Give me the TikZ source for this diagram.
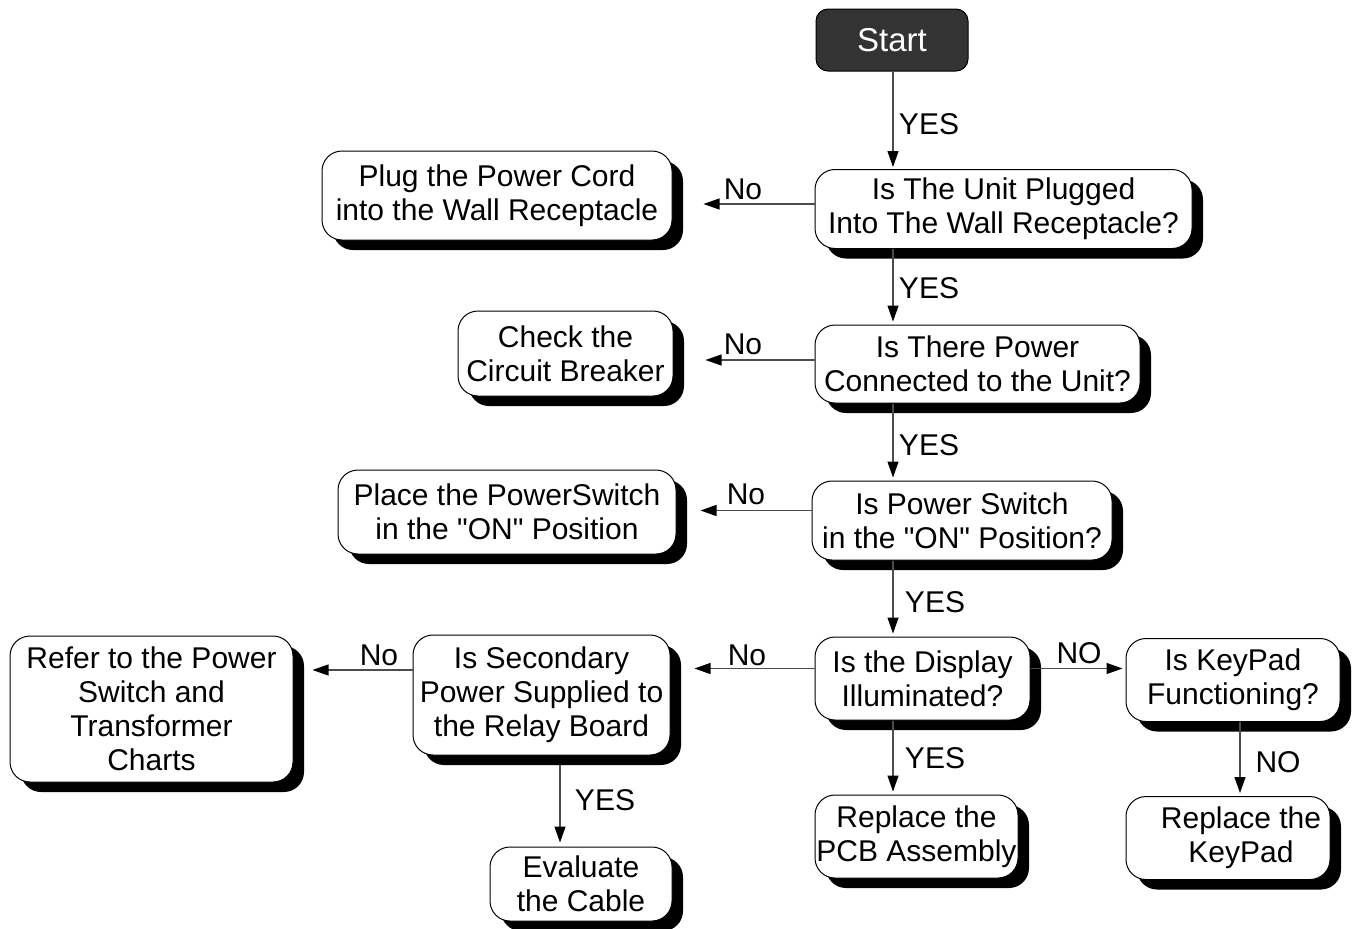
\documentclass[tikz,border=0pt]{standalone}
\usepackage{fontspec}
\setmainfont{Liberation Sans}[Ligatures=TeXOff]
\usetikzlibrary{shadows,arrows.meta}
\begin{document}
\begin{tikzpicture}[x=1pt,y=-1pt,
  every node/.style={font=\fontsize{30}{34}\selectfont},
  box/.style={draw=black, line width=1pt, fill=white, rounded corners=20pt,
    align=center, inner sep=0pt,
    drop shadow={shadow xshift=11pt, shadow yshift=-10pt, fill=black, opacity=1}},
  startbox/.style={draw=black, line width=1pt, fill=black!80, text=white,
    rounded corners=12pt, inner sep=0pt, font=\fontsize{33}{38}\selectfont},
  arr/.style={draw=black!70, line width=1.2pt, -{Triangle[length=16pt,width=11pt,color=black]}},
  lbl/.style={inner sep=0pt}
]
\useasboundingbox (0,0) rectangle (1355,929);

% --- main column ---
\node[startbox, minimum width=152pt, minimum height=62pt] (start) at (892,40) {Start};
\node[box, minimum width=377pt, minimum height=79pt] (q1) at (1003.5,209) {Is The Unit Plugged\\Into The Wall Receptacle?};
\node[box, minimum width=325pt, minimum height=78pt] (q2) at (977.5,364) {Is There Power\\Connected to the Unit?};
\node[box, minimum width=300pt, minimum height=79pt] (q3) at (962,520.5) {Is Power Switch\\in the "ON" Position?};
\node[box, minimum width=215pt, minimum height=83pt] (q4) at (922.5,678.5) {Is the Display\\Illuminated?};
\node[box, minimum width=203pt, minimum height=83pt] (pcb) at (916.5,836.5) {Replace the\\PCB Assembly};

% --- keypad branch ---
\node[box, minimum width=214pt, minimum height=83pt] (kp) at (1233,680) {Is KeyPad\\Functioning?};
\node[box, minimum width=204pt, minimum height=83pt] (rkp) at (1228,838) {\hspace*{26pt}Replace the\\\hspace*{26pt}KeyPad};

% --- remedies on the left ---
\node[box, minimum width=350pt, minimum height=89pt] (a1) at (497,195.5) {Plug the Power Cord\\into the Wall Receptacle};
\node[box, minimum width=215pt, minimum height=85pt] (a2) at (565.5,353.5) {Check the\\Circuit Breaker};
\node[box, minimum width=338pt, minimum height=84pt] (a3) at (507,512) {Place the PowerSwitch\\in the "ON" Position};
\node[box, minimum width=257pt, minimum height=120pt] (q5) at (541.5,695) {Is Secondary\\Power Supplied to\\the Relay Board};
\node[box, minimum width=283pt, minimum height=146pt] (r1) at (151.5,709) {Refer to the Power\\Switch and\\Transformer\\Charts};
\node[box, minimum width=182pt, minimum height=74pt] (ev) at (581,884) {Evaluate\\the Cable};

% --- helper coordinates for off-centre connectors ---
\coordinate (spine) at (893,0);
\coordinate (kpx) at (1240,0);
\coordinate (q5b) at (560,765);

% --- YES chain down the spine ---
\draw[arr, shorten >=2pt] (spine |- start.south) -- (spine |- q1.north);
\draw[arr, shorten >=3pt] (spine |- q1.south) -- (spine |- q2.north);
\draw[arr, shorten >=3pt] (spine |- q2.south) -- (spine |- q3.north);
\draw[arr, shorten >=3pt] (spine |- q3.south) -- (spine |- q4.north);
\draw[arr, shorten >=3pt] (spine |- q4.south) -- (spine |- pcb.north);

% --- No branches ---
\draw[arr, shorten >=31pt] ([yshift=5pt]q1.west) -- ([yshift=5pt]q1.west -| a1.east);
\draw[arr, shorten >=32pt] ([yshift=4pt]q2.west) -- ([yshift=4pt]q2.west -| a2.east);
\draw[arr, shorten >=24pt] ([yshift=10pt]q3.west) -- ([yshift=10pt]q3.west -| a3.east);
\draw[arr, shorten >=24pt] ([yshift=10pt]q4.west) -- ([yshift=10pt]q4.west -| q5.east);
\draw[arr, shorten >=19pt] ([yshift=25pt]q5.west) -- ([yshift=25pt]q5.west -| r1.east);
\draw[arr, shorten >=3pt] ([yshift=10pt]q4.east) -- ([yshift=10pt]q4.east -| kp.west);
\draw[arr, shorten >=3pt] (kpx |- kp.south) -- (kpx |- rkp.north);
\draw[arr, shorten >=4pt] (q5b) -- (q5b |- ev.north);

% --- connector labels ---
\node[lbl] (l1) at (929,124) {YES};
\node[lbl] (l2) at (929,288) {YES};
\node[lbl] (l3) at (929,445) {YES};
\node[lbl] (l4) at (935,602) {YES};
\node[lbl] (l5) at (935,758) {YES};
\node[lbl] (l6) at (605,800) {YES};
\node[lbl] (n1) at (743,189) {No};
\node[lbl] (n2) at (743,344) {No};
\node[lbl] (n3) at (746,494) {No};
\node[lbl] (n4) at (747,655) {No};
\node[lbl] (n5) at (379,655) {No};
\node[lbl] (n6) at (1079,653) {NO};
\node[lbl] (n7) at (1278,762) {NO};
\end{tikzpicture}
\end{document}
